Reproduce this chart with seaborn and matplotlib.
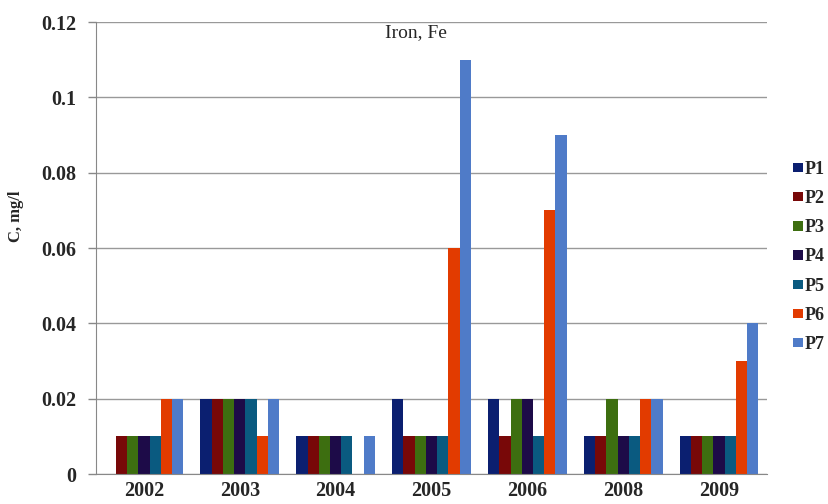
import matplotlib
matplotlib.use("Agg")
import matplotlib.pyplot as plt
import seaborn as sns
import pandas as pd
import numpy as np

years = ["2002", "2003", "2004", "2005", "2006", "2008", "2009"]
series = ["P1", "P2", "P3", "P4", "P5", "P6", "P7"]
P1 = [0.00, 0.02, 0.01, 0.02, 0.02, 0.01, 0.01]
P2 = [0.01, 0.02, 0.01, 0.01, 0.01, 0.01, 0.01]
P3 = [0.01, 0.02, 0.01, 0.01, 0.02, 0.02, 0.01]
P4 = [0.01, 0.02, 0.01, 0.01, 0.02, 0.01, 0.01]
P5 = [0.01, 0.02, 0.01, 0.01, 0.01, 0.01, 0.01]
P6 = [0.02, 0.01, 0.00, 0.06, 0.07, 0.02, 0.03]
P7 = [0.02, 0.02, 0.01, 0.11, 0.09, 0.02, 0.04]
colors = ["#0B1F70", "#780808", "#3D6E10", "#1D0B48", "#0A5A80", "#E23B00", "#4F7BC8"]
yticks = [0, 0.02, 0.04, 0.06, 0.08, 0.1, 0.12]
ytick_labels = ["0", "0.02", "0.04", "0.06", "0.08", "0.1", "0.12"]

vals = [P1, P2, P3, P4, P5, P6, P7]
rows = []
for s, v in zip(series, vals):
    for y, c in zip(years, v):
        rows.append({"year": y, "series": s, "C": c})
df = pd.DataFrame(rows)

sns.set_style("white")
plt.rcParams["font.family"] = ["Liberation Serif", "DejaVu Serif"]

fig = plt.figure(figsize=(8.29, 5.04), dpi=100)
ax = fig.add_axes([96/829, 30/504, 671/829, 452/504])

sns.barplot(data=df, x="year", y="C", hue="series", order=years, hue_order=series,
            palette=colors, width=0.82, saturation=1, ax=ax, linewidth=0, errorbar=None)

ax.set_ylim(0, 0.12)
ax.set_xlim(-0.5, len(years) - 0.5)
ax.set_yticks(yticks)
ax.set_yticklabels(ytick_labels, fontsize=14.5, fontweight="bold")
ax.yaxis.grid(True, color="#999999", linewidth=1)
ax.set_axisbelow(True)
for lbl in ax.get_xticklabels():
    lbl.set_fontsize(14.5)
    lbl.set_fontweight("bold")
ax.tick_params(axis="x", which="major", length=0, pad=5)
ax.set_xticks(np.arange(-0.5, len(years), 1.0), minor=True)
ax.tick_params(axis="x", which="minor", length=6, color="#888888", width=1, direction="out")
ax.tick_params(axis="y", which="major", length=6, color="#888888", width=1, direction="out", left=True, pad=8)

for side in ["top", "right"]:
    ax.spines[side].set_visible(False)
ax.spines["left"].set_color("#888888")
ax.spines["bottom"].set_color("#888888")

ax.set_xlabel("")
ax.set_ylabel("C, mg/l", fontsize=12, fontweight="bold", va="center")
ax.yaxis.set_label_coords((16 - 96) / 671, (474 - 216) / 452)
fig.text(416 / 829, 1 - 33 / 504, "Iron, Fe", ha="center", va="center", fontsize=14)

leg = ax.legend(loc="center left", bbox_to_anchor=(793 / 829, 1 - 257 / 504),
                bbox_transform=fig.transFigure, frameon=False, borderpad=0, borderaxespad=0,
                handlelength=0.55, handleheight=0.4, handletextpad=0.1, labelspacing=0.67,
                prop={"family": "Liberation Serif", "weight": "bold", "size": 13})

fig.savefig("out.png", dpi=100)
